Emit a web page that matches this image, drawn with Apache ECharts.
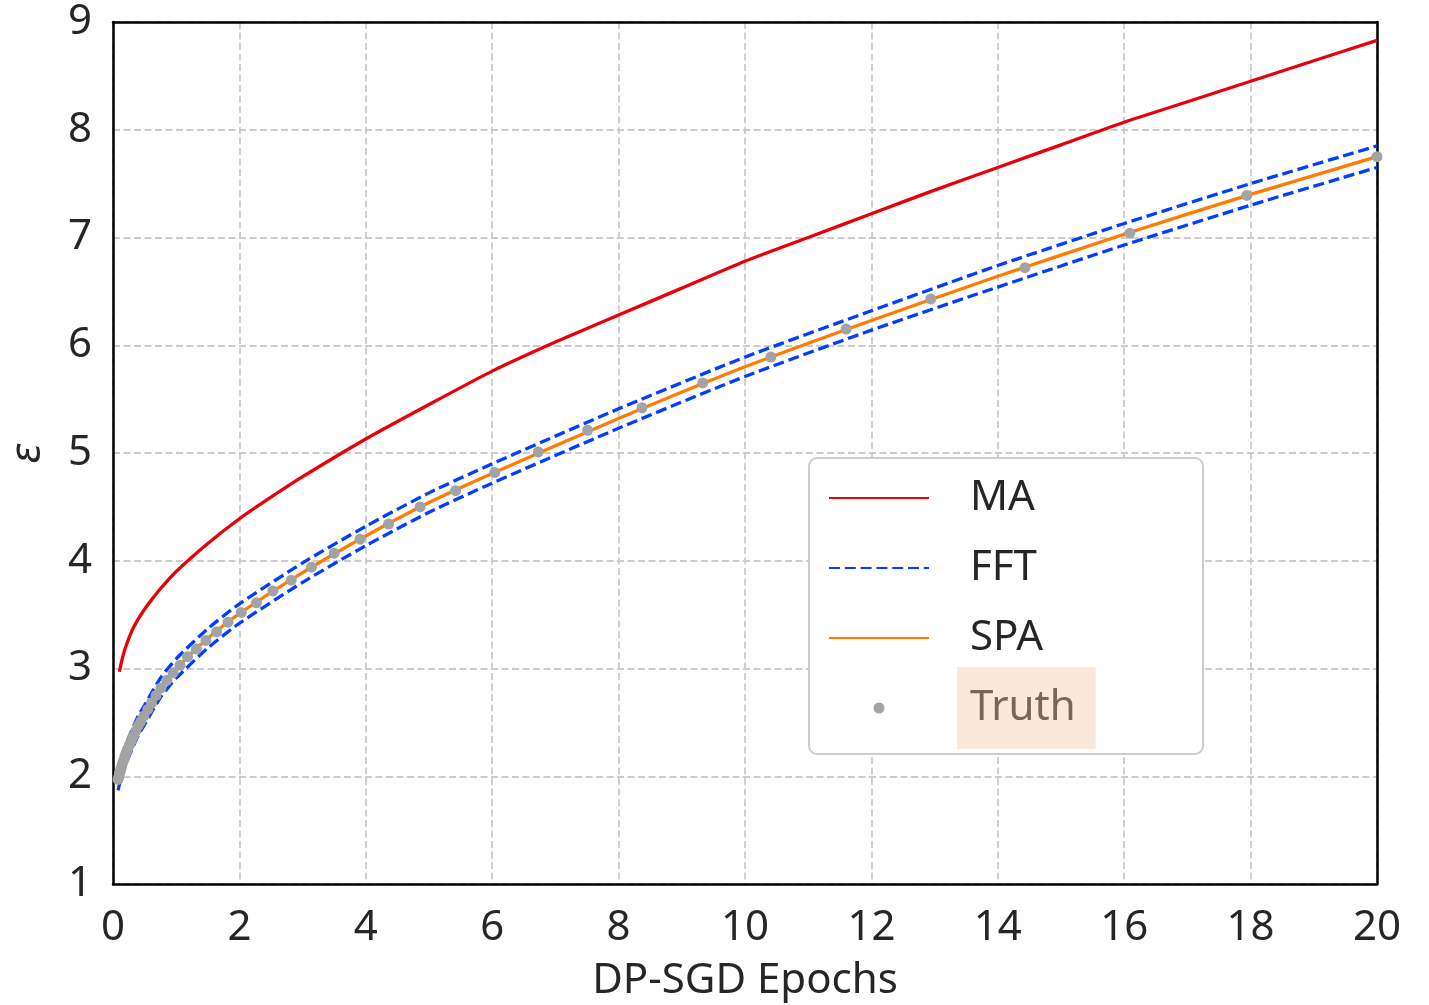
<!DOCTYPE html>
<html>
<head>
<meta charset="utf-8">
<script src="https://cdn.jsdelivr.net/npm/echarts@6/dist/echarts.min.js"></script>
<style>
  html, body { margin: 0; padding: 0; background: #fff; }
  #chart { width: 1429px; height: 1005px; }
</style>
</head>
<body>
<div id="chart"></div>
<script>
// ground truth points (epochs, epsilon)
const truthX = [0.08, 0.09, 0.10, 0.11, 0.12, 0.13, 0.15, 0.17, 0.19, 0.21, 0.23, 0.26, 0.29, 0.32, 0.36, 0.40, 0.44, 0.49, 0.55, 0.61, 0.68, 0.76, 0.85, 0.95, 1.06, 1.18, 1.32, 1.47, 1.64, 1.82, 2.03, 2.27, 2.53, 2.82, 3.14, 3.50, 3.91, 4.36, 4.86, 5.42, 6.04, 6.73, 7.51, 8.37, 9.33, 10.41, 11.60, 12.94, 14.43, 16.09, 17.94, 20.0]
const truthY = [1.97, 1.99, 2.02, 2.04, 2.06, 2.08, 2.12, 2.15, 2.19, 2.22, 2.25, 2.29, 2.33, 2.37, 2.42, 2.47, 2.51, 2.56, 2.62, 2.68, 2.75, 2.82, 2.89, 2.96, 3.03, 3.11, 3.18, 3.26, 3.34, 3.43, 3.52, 3.61, 3.72, 3.82, 3.94, 4.07, 4.20, 4.34, 4.50, 4.65, 4.82, 5.01, 5.21, 5.42, 5.65, 5.89, 6.15, 6.43, 6.72, 7.04, 7.39, 7.75]

// SPA / FFT curves
const curveX = [0.08, 0.1, 0.15, 0.2, 0.3, 0.4, 0.5, 0.75, 1, 1.5, 2, 3, 4, 5, 6, 8, 10, 12, 14, 16, 18, 20]
const spaY = [1.97, 2.02, 2.12, 2.20, 2.34, 2.47, 2.57, 2.82, 3.00, 3.28, 3.51, 3.89, 4.23, 4.54, 4.81, 5.32, 5.80, 6.23, 6.64, 7.03, 7.40, 7.75]
const fftUpperY = [2.05, 2.10, 2.20, 2.29, 2.43, 2.56, 2.66, 2.91, 3.09, 3.37, 3.60, 3.98, 4.32, 4.63, 4.90, 5.41, 5.89, 6.32, 6.74, 7.13, 7.50, 7.85]
const fftLowerY = [1.87, 1.92, 2.03, 2.11, 2.25, 2.38, 2.48, 2.73, 2.91, 3.19, 3.42, 3.80, 4.14, 4.45, 4.72, 5.23, 5.71, 6.14, 6.54, 6.93, 7.30, 7.65]

// moments accountant
const maX = [0.1, 0.15, 0.2, 0.3, 0.4, 0.5, 0.6, 0.75, 1, 1.5, 2, 2.5, 3, 4, 5, 6, 7, 8, 9, 10, 11, 12, 13, 14, 15, 16, 17, 18, 19, 20]
const maY = [2.97, 3.10, 3.20, 3.35, 3.46, 3.55, 3.63, 3.74, 3.90, 4.16, 4.39, 4.59, 4.78, 5.13, 5.45, 5.76, 6.03, 6.28, 6.53, 6.78, 7.00, 7.22, 7.44, 7.65, 7.86, 8.07, 8.26, 8.45, 8.64, 8.83]

const legendNames = ['MA', 'FFT', 'SPA', 'Truth']

const zip = (xs, ys) => xs.map((x, i) => [x, ys[i]])

const FONT = '"Noto Sans", sans-serif'
const TEXT = '#262626'

let chart = echarts.init(document.getElementById('chart'))

let lineSeries = (name, xs, ys, color, dashed) => ({
  name,
  type: 'line',
  data: zip(xs, ys),
  symbol: 'none',
  smooth: 0.2,
  lineStyle: {
    color,
    width: 3.3,
    type: dashed ? [11, 4.8] : 'solid'
  },
  itemStyle: { color },
  emphasis: { disabled: true },
  z: 3
})

// frame-only axes for the top and right edges
let frameAxis = {
  type: 'value',
  axisLine: { show: true, onZero: false, lineStyle: { color: '#000', width: 2.5 } },
  axisTick: { show: false },
  axisLabel: { show: false },
  splitLine: { show: false }
}

let gridLine = {
  show: true,
  lineStyle: { color: '#cccccc', width: 1.8, type: [7, 3.5] }
}

let option = {
  backgroundColor: '#fff',
  animation: false,
  grid: {
    left: 113,
    top: 22,
    right: 52,
    bottom: 121,
    outerBoundsMode: 'none',
    containLabel: false
  },
  xAxis: [
    {
      type: 'value',
      min: 0,
      max: 20,
      interval: 2,
      name: 'DP-SGD Epochs',
      nameLocation: 'middle',
      nameGap: 76,
      nameTextStyle: { fontFamily: FONT, fontSize: 42, color: TEXT },
      axisLine: { show: true, onZero: false, lineStyle: { color: '#000', width: 2.5 } },
      axisTick: { show: false },
      axisLabel: { fontFamily: FONT, fontSize: 42, color: TEXT, margin: 23 },
      splitLine: gridLine
    },
    Object.assign({}, frameAxis, { position: 'top', min: 0, max: 20 })
  ],
  yAxis: [
    {
      type: 'value',
      min: 1,
      max: 9,
      interval: 1,
      name: 'ε',
      nameLocation: 'middle',
      nameRotate: 90,
      nameGap: 64,
      nameTextStyle: {
        fontFamily: '"DejaVu Sans", sans-serif',
        fontStyle: 'italic',
        fontSize: 40,
        color: TEXT
      },
      axisLine: { show: true, onZero: false, lineStyle: { color: '#000', width: 2.5 } },
      axisTick: { show: false },
      axisLabel: { fontFamily: FONT, fontSize: 42, color: TEXT, margin: 21 },
      splitLine: gridLine
    },
    Object.assign({}, frameAxis, { position: 'right', min: 1, max: 9 })
  ],
  // legend frame
  graphic: [
    {
      type: 'rect',
      left: 808,
      top: 457,
      z: 10,
      shape: { width: 394, height: 296, r: 8 },
      style: { fill: '#fff', stroke: '#cccccc', lineWidth: 2 }
    }
  ],
  legend: {
    data: legendNames.map(name =>
      name === 'Truth' ? { name } : { name, itemStyle: { opacity: 0 } }
    ),
    orient: 'vertical',
    left: 828,
    top: 457,
    padding: 0,
    itemWidth: 100,
    itemHeight: 11,
    itemGap: -12,
    z: 20,
    selectedMode: false,
    formatter(name) {
      if (name === 'Truth') return '{sp2| }{hl|Truth}'
      return '{sp| }{n|' + name + '}'
    },
    textStyle: {
      fontFamily: FONT,
      fontSize: 42,
      color: TEXT,
      rich: {
        sp: { width: 36, height: 82, fontSize: 42 },
        sp2: { width: 23, height: 82, fontSize: 42 },
        n: { fontFamily: FONT, fontSize: 42, color: TEXT, height: 82, lineHeight: 82 },
        hl: {
          fontFamily: FONT,
          fontSize: 42,
          color: '#776659',
          backgroundColor: '#fbe8dc',
          height: 82,
          lineHeight: 82,
          padding: [0, 20, 0, 13]
        }
      }
    }
  },
  series: [
    lineSeries('MA', maX, maY, '#e8000b', false),
    lineSeries('FFT', curveX, fftUpperY, '#023eff', true),
    lineSeries('FFT', curveX, fftLowerY, '#023eff', true),
    lineSeries('SPA', curveX, spaY, '#ff7c00', false),
    {
      name: 'Truth',
      type: 'scatter',
      data: zip(truthX, truthY),
      symbol: 'circle',
      symbolSize: 11,
      itemStyle: { color: '#a3a3a3', opacity: 1 },
      emphasis: { disabled: true },
      z: 4
    }
  ]
}

chart.setOption(option)
</script>
</body>
</html>
